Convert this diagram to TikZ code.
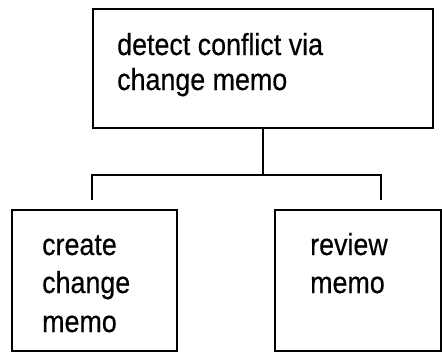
\documentclass[tikz,border=0pt]{standalone}
\usepackage{fontspec}
\setmainfont{Liberation Sans}[FakeStretch=0.88,FakeBold=0.4]
\begin{document}
\begin{tikzpicture}[x=1pt,y=-1pt,
  box/.style={draw=black,line width=2pt,minimum width=#1,inner sep=0pt},
  lbl/.style={anchor=base west,inner sep=0pt,font=\fontsize{30.5}{36}\selectfont},
  wire/.style={draw=black,line width=2pt}]
\useasboundingbox (0,0) rectangle (442,354);
\node[box=340pt,minimum height=119pt] (top) at (263,68.5) {};
\node[box=165pt,minimum height=141pt] (left) at (94.5,280) {};
\node[box=166pt,minimum height=141pt] (right) at (358,280) {};
\node[lbl] (t1) at (117,55) {detect conflict via};
\node[lbl] (t2) at (117,90) {change memo};
\node[lbl] (l1) at (42,255) {create};
\node[lbl] (l2) at (42,293) {change};
\node[lbl] (l3) at (42,332) {memo};
\node[lbl] (r1) at (310,255) {review};
\node[lbl] (r2) at (310,293) {memo};
\coordinate (j) at (top.south |- 0,175);
\coordinate (ld) at (92,200);
\coordinate (rd) at (381,200);
\draw[wire] (top.south) -- (j);
\draw[wire] (ld) |- (j) -| (rd);
\end{tikzpicture}
\end{document}
